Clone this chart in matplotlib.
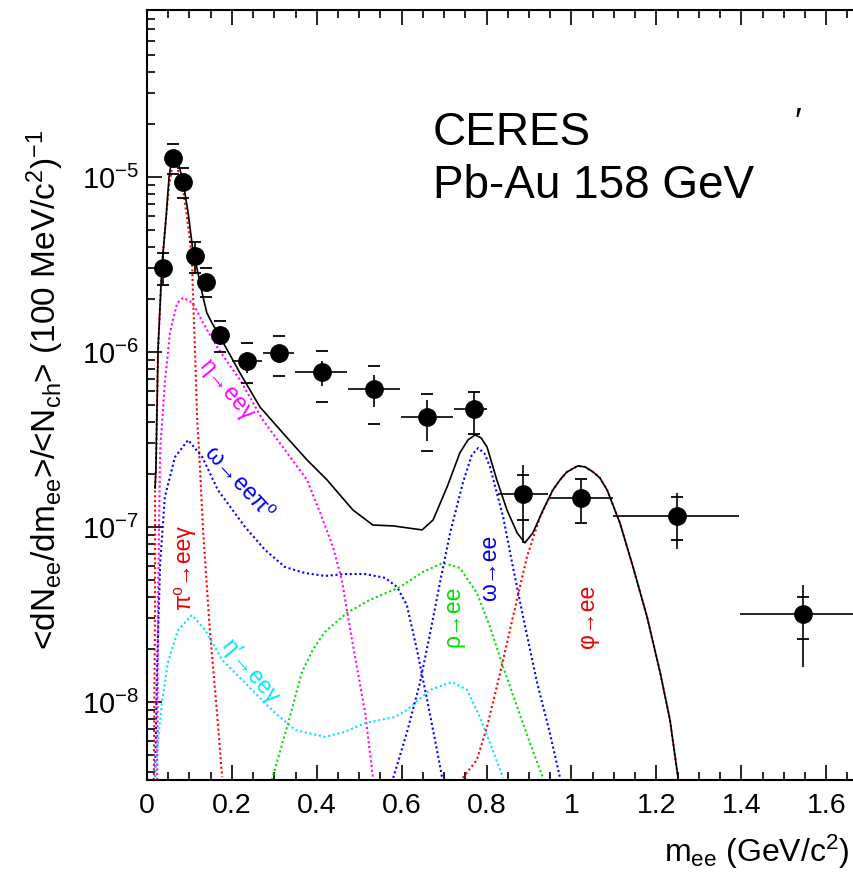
import numpy as np
import matplotlib
matplotlib.use("Agg")
import matplotlib.pyplot as plt
from matplotlib.ticker import LogLocator, NullFormatter, MultipleLocator

plt.rcParams['font.family'] = ['Liberation Sans', 'DejaVu Sans']
plt.rcParams['mathtext.fontset'] = 'custom'
plt.rcParams['mathtext.rm'] = 'Liberation Sans'
plt.rcParams['mathtext.it'] = 'Liberation Sans:italic'
plt.rcParams['mathtext.bf'] = 'Liberation Sans:bold'
plt.rcParams['mathtext.sf'] = 'Liberation Sans'

# ---------------- data points (CERES Pb-Au 158 GeV) ----------------
mass = [0.038, 0.061, 0.085, 0.113, 0.139, 0.172, 0.235, 0.311, 0.412, 0.535,
        0.660, 0.770, 0.885, 1.022, 1.248, 1.545]
mass_lo = [0.038, 0.061, 0.085, 0.113, 0.139, 0.172, 0.200, 0.273, 0.349, 0.473,
           0.598, 0.723, 0.827, 0.949, 1.098, 1.397]
mass_hi = [0.038, 0.061, 0.085, 0.113, 0.139, 0.172, 0.271, 0.346, 0.471, 0.596,
           0.721, 0.800, 0.945, 1.098, 1.395, 1.750]
yield_val = [3.02e-6, 1.285e-5, 9.36e-6, 3.54e-6, 2.51e-6, 1.25e-6, 8.89e-7, 9.87e-7,
             7.69e-7, 6.15e-7, 4.25e-7, 4.72e-7, 1.545e-7, 1.465e-7, 1.156e-7, 3.18e-8]
stat_hi = [3.68e-6, 1.40e-5, 1.03e-5, 4.25e-6, 2.80e-6, 1.40e-6, 1.00e-6, 1.10e-6,
           8.89e-7, 7.39e-7, 5.32e-7, 5.90e-7, 2.26e-7, 1.88e-7, 1.56e-7, 4.66e-8]
stat_lo = [2.41e-6, 1.17e-5, 8.50e-6, 2.83e-6, 2.25e-6, 1.10e-6, 7.60e-7, 8.60e-7,
           6.40e-7, 4.85e-7, 3.10e-7, 3.40e-7, 8.10e-8, 1.054e-7, 7.48e-8, 1.58e-8]
syst_hi = [3.68e-6, 1.545e-5, 1.126e-5, 4.25e-6, 3.02e-6, 1.50e-6, 1.125e-6, 1.234e-6,
           1.013e-6, 8.32e-7, 5.75e-7, 5.90e-7, 1.98e-7, 1.88e-7, 1.48e-7, 3.98e-8]
syst_lo = [2.41e-6, 1.04e-5, 7.59e-6, 2.83e-6, 2.06e-6, 1.00e-6, 6.65e-7, 7.29e-7,
           5.18e-7, 3.88e-7, 2.72e-7, 3.40e-7, 1.096e-7, 1.054e-7, 8.43e-8, 2.29e-8]

# ---------------- hadronic cocktail (log10 of yield) ----------------
tot_m = [0.019, 0.021, 0.026, 0.035, 0.045, 0.052, 0.057, 0.066, 0.075, 0.085, 0.097, 0.108,
         0.120, 0.132, 0.141, 0.153, 0.172, 0.219, 0.266, 0.320, 0.377, 0.424, 0.485, 0.532,
         0.580, 0.648, 0.674, 0.707, 0.737, 0.756, 0.773, 0.787, 0.801, 0.824, 0.848, 0.872,
         0.890, 0.909, 0.933, 0.956, 0.973, 0.989, 1.015, 1.032, 1.051, 1.067, 1.084, 1.114,
         1.145, 1.178, 1.209, 1.232, 1.251]
tot_log = [-6.777, -6.674, -5.989, -5.514, -5.229, -5.000, -4.920, -4.903, -4.931, -5.029,
           -5.206, -5.417, -5.549, -5.686, -5.777, -5.834, -5.914, -6.120, -6.314, -6.463,
           -6.617, -6.731, -6.903, -6.989, -6.994, -7.017, -6.960, -6.771, -6.577, -6.503,
           -6.474, -6.491, -6.543, -6.731, -6.903, -7.034, -7.091, -7.034, -6.903, -6.789,
           -6.731, -6.686, -6.651, -6.657, -6.686, -6.720, -6.789, -6.977, -7.229, -7.514,
           -7.834, -8.103, -8.434]

pi0_m = [0.016, 0.019, 0.019, 0.021, 0.026, 0.035, 0.045, 0.052, 0.059, 0.066, 0.073, 0.085,
         0.094, 0.101, 0.106, 0.108, 0.113, 0.118, 0.125, 0.132, 0.148, 0.165, 0.177]
pi0_log = [-8.446, -7.417, -6.777, -6.674, -5.989, -5.514, -5.229, -5.046, -4.949, -4.931,
           -4.960, -5.074, -5.229, -5.360, -5.474, -5.646, -5.989, -6.371, -6.674, -7.017,
           -7.589, -8.063, -8.429]

eta_m = [0.024, 0.026, 0.031, 0.042, 0.054, 0.071, 0.085, 0.101, 0.113, 0.132, 0.165, 0.219,
         0.273, 0.330, 0.377, 0.408, 0.438, 0.459, 0.483, 0.514, 0.532]
eta_log = [-8.446, -7.417, -6.560, -6.177, -5.891, -5.720, -5.691, -5.709, -5.743, -5.834,
           -5.971, -6.160, -6.389, -6.577, -6.731, -6.920, -7.114, -7.303, -7.646, -8.063,
           -8.429]

omd_m = [0.019, 0.024, 0.031, 0.042, 0.066, 0.097, 0.130, 0.167, 0.231, 0.278, 0.325, 0.372,
         0.419, 0.466, 0.514, 0.561, 0.589, 0.612, 0.636, 0.660, 0.683, 0.695]
omd_log = [-8.429, -7.777, -7.206, -6.829, -6.600, -6.503, -6.600, -6.789, -7.000, -7.131,
           -7.229, -7.263, -7.280, -7.269, -7.269, -7.291, -7.343, -7.446, -7.703, -7.989,
           -8.274, -8.429]

om_m = [0.580, 0.612, 0.643, 0.667, 0.690, 0.714, 0.744, 0.765, 0.780, 0.795, 0.808, 0.839,
        0.862, 0.886, 0.919, 0.949, 0.973]
om_log = [-8.434, -8.177, -7.891, -7.606, -7.320, -7.034, -6.749, -6.590, -6.549, -6.580,
          -6.657, -6.943, -7.229, -7.514, -7.891, -8.177, -8.434]

rho_m = [0.294, 0.330, 0.365, 0.391, 0.419, 0.471, 0.525, 0.596, 0.650, 0.697, 0.737, 0.777,
         0.808, 0.839, 0.872, 0.902, 0.933]
rho_log = [-8.446, -8.143, -7.829, -7.700, -7.600, -7.491, -7.417, -7.343, -7.257, -7.206,
           -7.234, -7.377, -7.571, -7.800, -8.029, -8.234, -8.434]

etap_m = [0.019, 0.024, 0.035, 0.049, 0.073, 0.106, 0.137, 0.177, 0.231, 0.294, 0.349, 0.419,
          0.466, 0.514, 0.584, 0.612, 0.667, 0.718, 0.754, 0.784, 0.808, 0.839]
etap_log = [-8.429, -8.274, -8.006, -7.777, -7.589, -7.503, -7.589, -7.760, -7.891, -8.046,
            -8.160, -8.200, -8.171, -8.120, -8.086, -8.046, -7.931, -7.886, -7.931, -8.086,
            -8.234, -8.434]

phi_m = [0.744, 0.777, 0.801, 0.832, 0.862, 0.895, 0.926, 0.956, 0.973, 0.989, 1.015, 1.032,
         1.051, 1.067, 1.084, 1.114, 1.145, 1.178, 1.209, 1.232, 1.251]
phi_log = [-8.434, -8.331, -8.143, -7.834, -7.514, -7.171, -6.943, -6.789, -6.731, -6.686,
           -6.651, -6.657, -6.686, -6.720, -6.789, -6.977, -7.229, -7.514, -7.834, -8.103,
           -8.434]

# ---------------- figure ----------------
W, H = 854, 880
fig = plt.figure(figsize=(W / 100, H / 100), dpi=100)
ax = fig.add_axes([147 / W, 100 / H, (868.65 - 147) / W, 770 / H])
ax.set_yscale('log')
ax.set_xlim(0, 1.7)
ax.set_ylim(10 ** -8.446, 10 ** -4.046)

dot = (0, (1.0, 1.3))
lw_d = 1.5
comps = [
    (pi0_m, pi0_log, '#ff0000'),
    (eta_m, eta_log, '#ff00ff'),
    (omd_m, omd_log, '#0000ff'),
    (etap_m, etap_log, '#00e5ff'),
    (rho_m, rho_log, '#00dd00'),
    (om_m, om_log, '#0000ff'),
    (phi_m, phi_log, '#ff0000'),
]
for m, lg, c in comps:
    ax.plot(m, 10 ** np.array(lg), color=c, ls=dot, lw=lw_d, zorder=2)

ax.plot(tot_m, 10 ** np.array(tot_log), color='k', lw=1.2, zorder=3)

# data
x = np.array(mass)
y = np.array(yield_val)
ax.errorbar(x, y,
            yerr=[y - np.array(stat_lo), np.array(stat_hi) - y],
            xerr=[x - np.array(mass_lo), np.array(mass_hi) - x],
            fmt='o', ms=12.5, color='k', mfc='k', mec='k',
            elinewidth=1.2, capsize=0, zorder=5)
ax.plot(x, syst_hi, ls='none', marker='_', ms=8, mew=1.3, color='k', zorder=5)
ax.plot(x, syst_lo, ls='none', marker='_', ms=8, mew=1.3, color='k', zorder=5)

# labels on curves
lab_fs = 16.5
ax.text(0.188, 10 ** -6.217, 'η→eeγ', color='#ff00ff', fontsize=lab_fs,
        rotation=-50, ha='center', va='center', rotation_mode='anchor')
ax.text(0.217, 10 ** -6.749, 'ω→eeπ⁰', color='#0000ee', fontsize=lab_fs,
        rotation=-47, ha='center', va='center', rotation_mode='anchor')
ax.text(0.085, 10 ** -7.231, 'π⁰→eeγ', color='#ee0000', fontsize=lab_fs,
        rotation=90, ha='center', va='center', rotation_mode='anchor')
ax.text(0.243, 10 ** -7.829, 'η′→eeγ', color='#00e5ff', fontsize=lab_fs,
        rotation=-50, ha='center', va='center', rotation_mode='anchor')
ax.text(0.721, 10 ** -7.51, 'ρ→ee', color='#00dd00', fontsize=lab_fs,
        rotation=90, ha='center', va='center', rotation_mode='anchor')
ax.text(0.808, 10 ** -7.234, 'ω→ee', color='#0000ee', fontsize=lab_fs,
        rotation=90, ha='center', va='center', rotation_mode='anchor')
ax.text(1.037, 10 ** -7.51, 'φ→ee', color='#ee0000', fontsize=lab_fs,
        rotation=90, ha='center', va='center', rotation_mode='anchor')
ax.text(1.534, 10 ** -4.703, '′', color='k', fontsize=26, ha='center', va='center')

# header text
fig.text(433 / W, 1 - 145 / H, 'CERES', fontsize=33, ha='left', va='baseline')
fig.text(433 / W, 1 - 198 / H, 'Pb-Au 158 GeV', fontsize=33, ha='left', va='baseline')

# axes styling
for s in ax.spines.values():
    s.set_linewidth(1.5)
ax.xaxis.set_major_locator(MultipleLocator(0.2))
ax.xaxis.set_minor_locator(MultipleLocator(0.05))
ax.yaxis.set_major_locator(LogLocator(base=10, numticks=20))
ax.yaxis.set_minor_locator(LogLocator(base=10, subs=np.arange(2, 10), numticks=20))
ax.yaxis.set_minor_formatter(NullFormatter())
ax.tick_params(which='both', direction='in', top=True, right=True, width=1.2)
ax.tick_params(which='major', length=11)
ax.tick_params(which='minor', length=5.5)
ax.tick_params(axis='x', which='major', labelsize=20.5, pad=9)
ax.tick_params(axis='y', which='major', labelsize=21, pad=6)
ax.set_xticks([0, 0.2, 0.4, 0.6, 0.8, 1.0, 1.2, 1.4, 1.6])
ax.set_xticklabels(['0', '0.2', '0.4', '0.6', '0.8', '1', '1.2', '1.4', '1.6'])

fig.text(45 / W, 1 - 390 / H,
         r'<dN$_{\mathrm{ee}}$/dm$_{\mathrm{ee}}$>/<N$_{\mathrm{ch}}$> (100 MeV/c$^{2}$)$^{-1}$',
         fontsize=24, rotation=90, ha='center', va='center')
fig.text(850 / W, 1 - 862 / H, r'm$_{\mathrm{ee}}$ (GeV/c$^{2}$)', fontsize=23,
         ha='right', va='baseline')

fig.savefig('out.png', dpi=100)
